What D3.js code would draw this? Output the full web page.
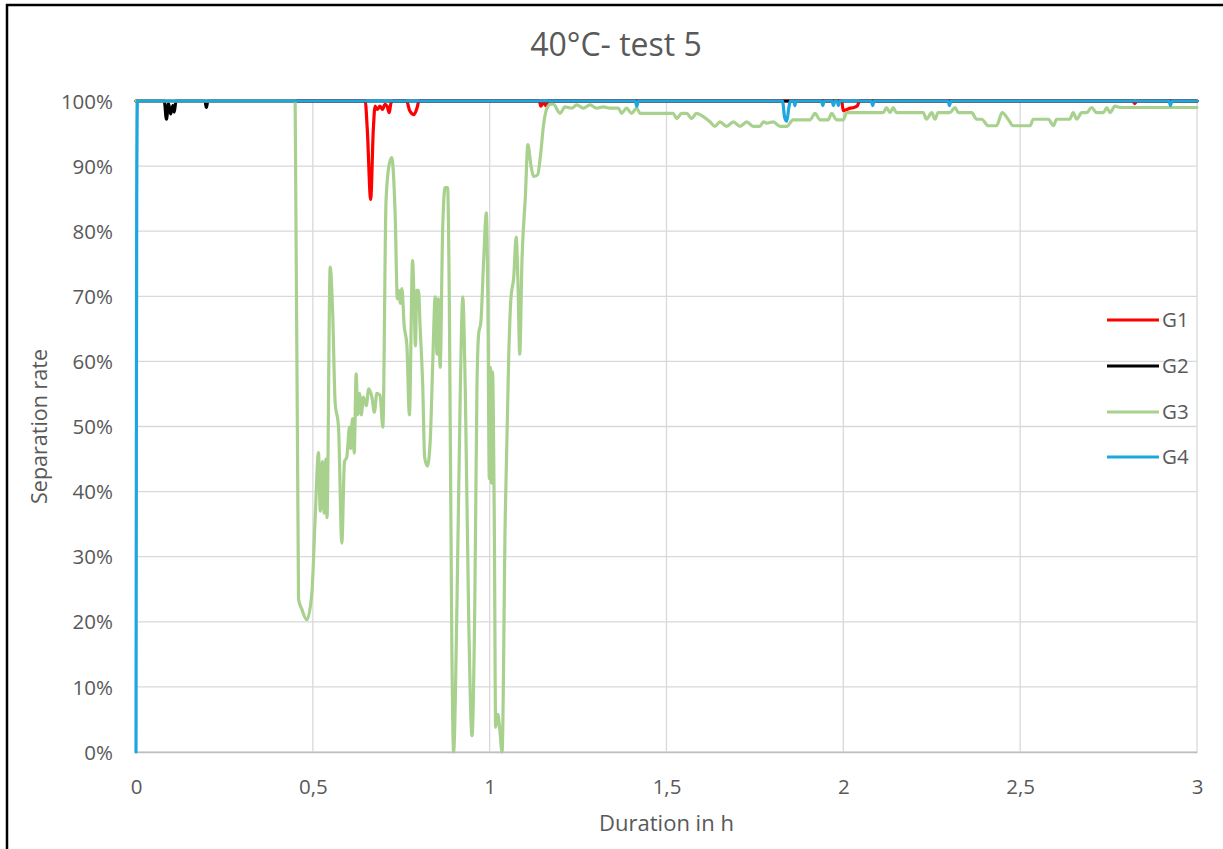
<!DOCTYPE html>
<html>
<head>
<meta charset="utf-8">
<script src="https://cdn.jsdelivr.net/npm/d3@7"></script>
<style>
  html, body { margin: 0; padding: 0; background: #fff; }
  svg { display: block; }
  text { font-family: "Open Sans", sans-serif; fill: #595959; }
</style>
</head>
<body>
<svg id="chart" width="1223" height="849"></svg>
<script>
// ---- data ----
const chartTitle = "40°C- test 5";
const xAxisTitle = "Duration in h";
const yAxisTitle = "Separation rate";
const seriesNames = ["G1", "G2", "G3", "G4"];
const xTicks = [0, 0.5, 1, 1.5, 2, 2.5, 3];
const yTicks = [0, 10, 20, 30, 40, 50, 60, 70, 80, 90, 100];

const g1Points = [[0,100],[0.648,100],[0.654,95.6],[0.6635,84.9],[0.671,95.6],[0.676,99.2],[0.682,98.7],[0.690,99.2],[0.697,98.7],[0.704,99.5],[0.710,99.2],[0.716,98.2],[0.721,99.7],[0.726,100],[0.765,100],[0.774,98.5],[0.786,97.9],[0.795,99.0],[0.800,100],[1.140,100],[1.145,99.2],[1.150,100],[1.158,99.3],[1.166,100],[1.995,100],[2.000,98.5],[2.010,98.7],[2.020,98.9],[2.030,99.0],[2.040,99.3],[2.046,100],[2.818,100],[2.824,99.6],[2.830,100],[3,100]];

const g2Points = [[0,100],[0.080,100],[0.086,97.2],[0.092,99.6],[0.098,98.0],[0.104,99.3],[0.108,98.3],[0.113,100],[0.195,100],[0.199,99.0],[0.203,100],[3,100]];

const g3Points = [[0,100],[0.45,100],[0.4595,23.5],[0.469,21.9],[0.483,20.3],[0.497,24.2],[0.5066,36],[0.516,46],[0.521,37],[0.527,44.6],[0.532,36.7],[0.537,45],[0.540,36],[0.549,74.5],[0.556,67.6],[0.563,53.8],[0.5726,49.9],[0.582,32.1],[0.5895,44.6],[0.596,45.3],[0.6037,49.9],[0.607,46.6],[0.612,51.2],[0.617,45.9],[0.6225,58.1],[0.627,51.8],[0.632,55.1],[0.637,51.8],[0.643,54.5],[0.651,53.2],[0.658,55.8],[0.667,54.5],[0.674,52.2],[0.681,55.1],[0.690,54.8],[0.698,49.9],[0.707,84.7],[0.716,90.3],[0.723,91.3],[0.733,82.1],[0.739,69.6],[0.743,70.9],[0.747,68.9],[0.752,71.2],[0.758,65.7],[0.766,62.4],[0.773,51.8],[0.782,75.5],[0.7865,68.9],[0.790,62.4],[0.794,70.9],[0.799,70.9],[0.803,65.7],[0.811,55.8],[0.816,45.3],[0.824,43.9],[0.832,47.9],[0.839,59.7],[0.846,69.9],[0.851,61.1],[0.855,69.6],[0.860,59.1],[0.867,80.1],[0.874,86.7],[0.881,86.7],[0.886,68.9],[0.893,16.3],[0.898,0],[0.9076,22.9],[0.917,55.8],[0.924,69.9],[0.931,55.8],[0.941,19.6],[0.950,2.5],[0.958,22.9],[0.964,55.8],[0.969,64.3],[0.975,66],[0.983,75.5],[0.9906,82.8],[0.995,68.9],[0.999,42],[1.002,59.1],[1.005,41.3],[1.008,58.4],[1.013,36],[1.017,3.8],[1.023,5.8],[1.028,3.8],[1.035,0],[1.044,36],[1.054,61.1],[1.060,69.6],[1.068,72.9],[1.075,79.1],[1.080,72.2],[1.085,61.1],[1.0914,75.5],[1.101,85.4],[1.108,93.3],[1.117,90],[1.124,88.4],[1.136,88.7],[1.143,91.3],[1.153,96.6],[1.162,98.9],[1.172,99.5],[1.180,99.5],[1.199,98.1],[1.213,99.1],[1.232,98.9],[1.246,99.4],[1.265,98.9],[1.284,99.4],[1.302,98.9],[1.321,99.1],[1.340,98.9],[1.364,98.9],[1.373,98.1],[1.387,98.9],[1.401,98.1],[1.416,98.9],[1.425,98.1],[1.519,98.1],[1.529,97.3],[1.543,98.1],[1.557,98.1],[1.571,97.3],[1.585,98.1],[1.604,97.6],[1.623,96.8],[1.637,96.1],[1.651,96.8],[1.670,96.1],[1.689,96.8],[1.708,96.1],[1.727,96.8],[1.745,96.1],[1.764,96.1],[1.774,96.8],[1.783,96.6],[1.802,96.8],[1.821,96.1],[1.840,96.1],[1.858,97.1],[1.906,97.1],[1.920,98.1],[1.934,97.1],[1.957,97.1],[1.967,98.1],[1.981,97.1],[2.000,97.1],[2.009,98.2],[2.113,98.2],[2.122,99.0],[2.132,98.2],[2.141,99.0],[2.150,98.2],[2.226,98.2],[2.235,97.2],[2.250,98.2],[2.259,97.2],[2.268,98.2],[2.301,98.2],[2.316,99.0],[2.325,98.2],[2.363,98.2],[2.377,97.2],[2.391,97.2],[2.410,96.2],[2.433,96.2],[2.449,98.2],[2.466,97.2],[2.480,96.2],[2.528,96.2],[2.537,97.2],[2.580,97.2],[2.594,96.2],[2.603,97.2],[2.640,97.2],[2.650,98.2],[2.660,97.2],[2.674,98.2],[2.688,98.2],[2.702,99.0],[2.716,98.2],[2.735,98.2],[2.745,99.0],[2.754,98.2],[2.768,99.2],[2.782,99.0],[3,99.0]];

const g4Points = [[0,0],[0.001,45],[0.002,84],[0.004,100],[1.412,100],[1.416,99.2],[1.420,100],[1.828,100],[1.834,97.5],[1.840,96.9],[1.846,99.0],[1.850,100],[1.860,100],[1.863,99.3],[1.866,100],[1.938,100],[1.942,99.3],[1.946,100],[1.968,100],[1.972,99.3],[1.976,100],[1.982,100],[1.986,99.3],[1.990,100],[2.079,100],[2.083,99.3],[2.087,100],[2.296,100],[2.300,99.3],[2.304,100],[2.921,100],[2.925,99.3],[2.929,100],[3,100]];

const seriesColors = ["#ff0000", "#000000", "#a9d18e", "#1ea7df"];

// ---- layout ----
const W = 1223, H = 849;
const plot = { left: 136, right: 1197, top: 101, bottom: 752 };

const svg = d3.select("#chart");

// frame (only left/top edges visible in the crop)
svg.append("rect")
  .attr("x", 7).attr("y", 5)
  .attr("width", W + 20).attr("height", H + 20)
  .attr("fill", "#fff").attr("stroke", "#000").attr("stroke-width", 2.5);

const x = d3.scaleLinear().domain([0, 3]).range([plot.left, plot.right]);
const y = d3.scaleLinear().domain([0, 100]).range([plot.bottom, plot.top]);

// gridlines
const grid = svg.append("g");
grid.selectAll("line.h").data(yTicks).join("line")
  .attr("x1", plot.left).attr("x2", plot.right)
  .attr("y1", d => y(d)).attr("y2", d => y(d))
  .attr("stroke", "#d9d9d9").attr("stroke-width", 1.3);
grid.selectAll("line.v").data(xTicks).join("line")
  .attr("x1", d => x(d)).attr("x2", d => x(d))
  .attr("y1", plot.top).attr("y2", plot.bottom)
  .attr("stroke", "#d9d9d9").attr("stroke-width", 1.3);

// axes (labels only)
const fmtX = d => String(d).replace(".", ",");
const xAxis = d3.axisBottom(x).tickValues(xTicks).tickFormat(fmtX).tickSize(0).tickPadding(0);
const gx = svg.append("g").attr("transform", `translate(0,${plot.bottom})`).call(xAxis);
gx.select(".domain").attr("stroke", "#bfbfbf").attr("stroke-width", 1.3);
gx.selectAll("text").attr("dy", null).attr("y", 42).attr("font-size", 20.5)
  .style("font-family", "'Open Sans', sans-serif").attr("fill", "#595959");

const yAxis = d3.axisLeft(y).tickValues(yTicks).tickFormat(d => d + "%").tickSize(0).tickPadding(23);
const gy = svg.append("g").attr("transform", `translate(${plot.left},0)`).call(yAxis);
gy.select(".domain").remove();
gy.selectAll("text").attr("dy", "0.35em").attr("font-size", 20.5)
  .style("font-family", "'Open Sans', sans-serif").attr("fill", "#595959");

// series
const line = d3.line().curve(d3.curveMonotoneX).x(d => x(d[0])).y(d => y(d[1]));
const allSeries = [g1Points, g2Points, g3Points, g4Points];
svg.append("g").selectAll("path").data(allSeries).join("path")
  .attr("d", line)
  .attr("fill", "none")
  .attr("stroke", (d, i) => seriesColors[i])
  .attr("stroke-width", 3.2)
  .attr("stroke-linejoin", "round")
  .attr("stroke-linecap", "round");

// title
svg.append("text").attr("x", 616).attr("y", 56)
  .attr("text-anchor", "middle").attr("font-size", 32).text(chartTitle);

// axis titles
svg.append("text").attr("x", (plot.left + plot.right) / 2).attr("y", 831)
  .attr("text-anchor", "middle").attr("font-size", 22).text(xAxisTitle);
svg.append("text")
  .attr("transform", `translate(47,${(plot.top + plot.bottom) / 2}) rotate(-90)`)
  .attr("text-anchor", "middle").attr("font-size", 21.5).text(yAxisTitle);

// legend
const legendY = [320, 366, 412, 457];
const lg = svg.append("g");
seriesNames.forEach((name, i) => {
  lg.append("line").attr("x1", 1107).attr("x2", 1159)
    .attr("y1", legendY[i]).attr("y2", legendY[i])
    .attr("stroke", seriesColors[i]).attr("stroke-width", 3.2);
  lg.append("text").attr("x", 1162).attr("y", legendY[i]).attr("dy", "0.35em")
    .attr("font-size", 20.5).text(name);
});
</script>
</body>
</html>
